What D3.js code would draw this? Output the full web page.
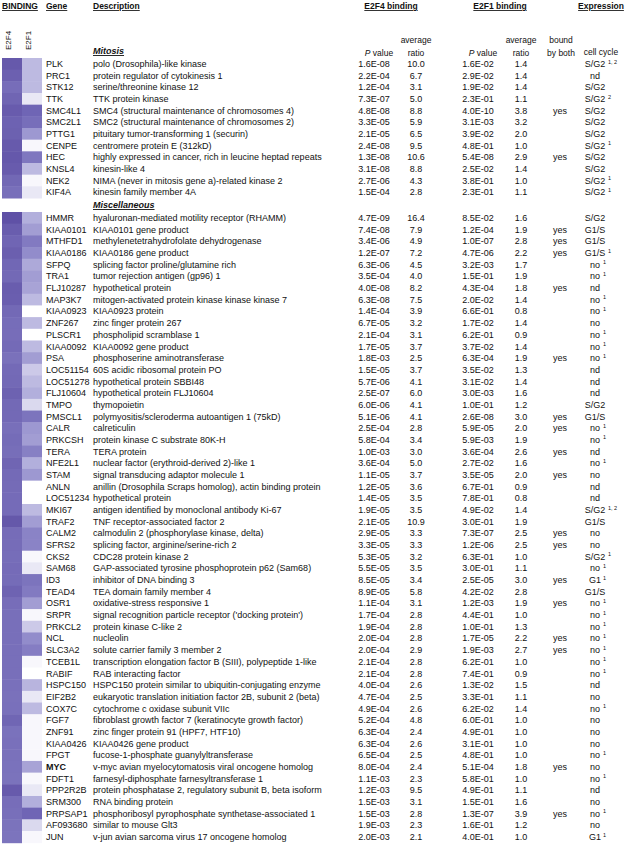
<!DOCTYPE html>
<html lang="en">
<head>
  <meta charset="UTF-8">
  <title>E2F4 / E2F1 binding</title>
  <style>
    body, html {
      margin: 0;
      padding: 0;
      background-color: #ffffff;
    }
    #svg text {
      font-family: Arial, 'Liberation Sans', Helvetica, sans-serif;
      fill: #111;
    }
  </style>
</head>
<body>
  <svg id="svg" width="627" height="854"></svg>
  <script src="https://d3js.org/d3.v7.min.js"></script>
  <script>
    const categories = ['Mitosis', 'Miscellaneous']
    const categoryCounts = [12, 54]

    const genes = ['PLK', 'PRC1', 'STK12', 'TTK', 'SMC4L1', 'SMC2L1', 'PTTG1', 'CENPE', 'HEC', 'KNSL4', 'NEK2', 'KIF4A',
      'HMMR', 'KIAA0101', 'MTHFD1', 'KIAA0186', 'SFPQ', 'TRA1', 'FLJ10287', 'MAP3K7', 'KIAA0923', 'ZNF267',
      'PLSCR1', 'KIAA0092', 'PSA', 'LOC51154', 'LOC51278', 'FLJ10604', 'TMPO', 'PMSCL1', 'CALR', 'PRKCSH',
      'TERA', 'NFE2L1', 'STAM', 'ANLN', 'LOC51234', 'MKI67', 'TRAF2', 'CALM2', 'SFRS2', 'CKS2', 'SAM68',
      'ID3', 'TEAD4', 'OSR1', 'SRPR', 'PRKCL2', 'NCL', 'SLC3A2', 'TCEB1L', 'RABIF', 'HSPC150', 'EIF2B2',
      'COX7C', 'FGF7', 'ZNF91', 'KIAA0426', 'FPGT', 'MYC', 'FDFT1', 'PPP2R2B', 'SRM300', 'PRPSAP1',
      'AF093680', 'JUN']

    const descriptions = [
      'polo (Drosophila)-like kinase',
      'protein regulator of cytokinesis 1',
      'serine/threonine kinase 12',
      'TTK protein kinase',
      'SMC4 (structural maintenance of chromosomes 4)',
      'SMC2 (structural maintenance of chromosomes 2)',
      'pituitary tumor-transforming 1 (securin)',
      'centromere protein E (312kD)',
      'highly expressed in cancer, rich in leucine heptad repeats',
      'kinesin-like 4',
      'NIMA (never in mitosis gene a)-related kinase 2',
      'kinesin family member 4A',
      'hyaluronan-mediated motility receptor (RHAMM)',
      'KIAA0101 gene product',
      'methylenetetrahydrofolate dehydrogenase',
      'KIAA0186 gene product',
      'splicing factor proline/glutamine rich',
      'tumor rejection antigen (gp96) 1',
      'hypothetical protein',
      'mitogen-activated protein kinase kinase kinase 7',
      'KIAA0923 protein',
      'zinc finger protein 267',
      'phospholipid scramblase 1',
      'KIAA0092 gene product',
      'phosphoserine aminotransferase',
      '60S acidic ribosomal protein PO',
      'hypothetical protein SBBI48',
      'hypothetical protein FLJ10604',
      'thymopoietin',
      'polymyositis/scleroderma autoantigen 1 (75kD)',
      'calreticulin',
      'protein kinase C substrate 80K-H',
      'TERA protein',
      'nuclear factor (erythroid-derived 2)-like 1',
      'signal transducing adaptor molecule 1',
      'anillin (Drosophila Scraps homolog), actin binding protein',
      'hypothetical protein',
      'antigen identified by monoclonal antibody Ki-67',
      'TNF receptor-associated factor 2',
      'calmodulin 2 (phosphorylase kinase, delta)',
      'splicing factor, arginine/serine-rich 2',
      'CDC28 protein kinase 2',
      'GAP-associated tyrosine phosphoprotein p62 (Sam68)',
      'inhibitor of DNA binding 3',
      'TEA domain family member 4',
      'oxidative-stress responsive 1',
      'signal recognition particle receptor (\'docking protein\')',
      'protein kinase C-like 2',
      'nucleolin',
      'solute carrier family 3 member 2',
      'transcription elongation factor B (SIII), polypeptide 1-like',
      'RAB interacting factor',
      'HSPC150 protein similar to ubiquitin-conjugating enzyme',
      'eukaryotic translation initiation factor 2B, subunit 2 (beta)',
      'cytochrome c oxidase subunit VIIc',
      'fibroblast growth factor 7 (keratinocyte growth factor)',
      'zinc finger protein 91 (HPF7, HTF10)',
      'KIAA0426 gene product',
      'fucose-1-phosphate guanylyltransferase',
      'v-myc avian myelocytomatosis viral oncogene homolog',
      'farnesyl-diphosphate farnesyltransferase 1',
      'protein phosphatase 2, regulatory subunit B, beta isoform',
      'RNA binding protein',
      'phosphoribosyl pyrophosphate synthetase-associated 1',
      'similar to mouse Glt3',
      'v-jun avian sarcoma virus 17 oncogene homolog'
    ]

    const e2f4P = ['1.6E-08', '2.2E-04', '1.2E-04', '7.3E-07', '4.8E-08', '3.3E-05', '2.1E-05', '2.4E-08', '1.3E-08', '3.1E-08', '2.7E-06', '1.5E-04',
      '4.7E-09', '7.4E-08', '3.4E-06', '1.2E-07', '6.3E-06', '3.5E-04', '4.0E-08', '6.3E-08', '1.4E-04', '6.7E-05',
      '2.1E-04', '1.7E-05', '1.8E-03', '1.5E-05', '5.7E-06', '2.5E-07', '6.0E-06', '5.1E-06', '2.5E-04', '5.8E-04',
      '1.0E-03', '3.6E-04', '1.1E-05', '1.2E-05', '1.4E-05', '1.9E-05', '2.1E-05', '2.9E-05', '3.3E-05', '5.3E-05', '5.5E-05',
      '8.5E-05', '8.9E-05', '1.1E-04', '1.7E-04', '1.9E-04', '2.0E-04', '2.0E-04', '2.1E-04', '2.1E-04', '4.0E-04', '4.7E-04',
      '4.9E-04', '5.2E-04', '6.3E-04', '6.3E-04', '6.5E-04', '8.0E-04', '1.1E-03', '1.2E-03', '1.5E-03', '1.5E-03',
      '1.9E-03', '2.0E-03']
    const e2f4Ratio = [10.0, 6.7, 3.1, 5.0, 8.8, 5.9, 6.5, 9.5, 10.6, 8.8, 4.3, 2.8,
      16.4, 7.9, 4.9, 7.2, 4.5, 4.0, 8.2, 7.5, 3.9, 3.2,
      3.1, 3.7, 2.5, 3.7, 4.1, 6.0, 4.1, 4.1, 2.8, 3.4,
      3.0, 5.0, 3.7, 3.6, 3.5, 3.5, 10.9, 3.3, 3.3, 3.2, 3.5,
      3.4, 5.8, 3.1, 2.8, 2.8, 2.8, 2.9, 2.8, 2.8, 2.6, 2.5,
      2.6, 4.8, 2.4, 2.6, 2.5, 2.4, 2.3, 9.5, 3.1, 2.8,
      2.3, 2.1]
    const e2f1P = ['1.6E-02', '2.9E-02', '1.9E-02', '2.3E-01', '4.0E-10', '3.1E-03', '3.9E-02', '4.8E-01', '5.4E-08', '2.5E-02', '3.8E-01', '2.3E-01',
      '8.5E-02', '1.2E-04', '1.0E-07', '4.7E-06', '3.2E-03', '1.5E-01', '4.3E-04', '2.0E-02', '6.6E-01', '1.7E-02',
      '6.2E-01', '3.7E-02', '6.3E-04', '3.5E-02', '3.1E-02', '3.0E-03', '1.0E-01', '2.6E-08', '5.9E-05', '5.9E-03',
      '3.6E-04', '2.7E-02', '3.5E-05', '6.7E-01', '7.8E-01', '4.9E-02', '3.0E-01', '7.3E-07', '1.2E-06', '6.3E-01', '3.0E-01',
      '2.5E-05', '4.2E-02', '1.2E-03', '4.4E-01', '1.0E-01', '1.7E-05', '1.9E-03', '6.2E-01', '7.4E-01', '1.3E-02', '3.3E-01',
      '6.2E-02', '6.0E-01', '4.9E-01', '3.1E-01', '4.8E-01', '5.1E-04', '5.8E-01', '4.9E-01', '1.5E-01', '1.3E-07',
      '1.6E-01', '4.0E-01']
    const e2f1Ratio = [1.4, 1.4, 1.4, 1.1, 3.8, 3.2, 2.0, 1.0, 2.9, 1.4, 1.0, 1.1,
      1.6, 1.9, 2.8, 2.2, 1.7, 1.9, 1.8, 1.4, 0.8, 1.4,
      0.9, 1.4, 1.9, 1.3, 1.4, 1.6, 1.2, 3.0, 2.0, 1.9,
      2.6, 1.6, 2.0, 0.9, 0.8, 1.4, 1.9, 2.5, 2.5, 1.0, 1.1,
      3.0, 2.8, 1.9, 1.0, 1.3, 2.2, 2.7, 1.0, 0.9, 1.5, 1.1,
      1.4, 1.0, 1.0, 1.0, 1.0, 1.8, 1.0, 1.1, 1.6, 3.9,
      1.2, 1.0]
    const boundByBoth = ['HEC', 'SMC4L1', 'KIAA0101', 'MTHFD1', 'KIAA0186', 'FLJ10287', 'PSA', 'PMSCL1', 'CALR',
      'TERA', 'STAM', 'CALM2', 'SFRS2', 'ID3', 'OSR1', 'NCL', 'SLC3A2', 'MYC', 'PRPSAP1']
    const cellCycle = ['S/G2', 'nd', 'S/G2', 'S/G2', 'S/G2', 'S/G2', 'S/G2', 'S/G2', 'S/G2', 'S/G2', 'S/G2', 'S/G2',
      'S/G2', 'G1/S', 'G1/S', 'G1/S', 'no', 'no', 'nd', 'no', 'no', 'no',
      'no', 'no', 'no', 'nd', 'nd', 'nd', 'S/G2', 'G1/S', 'no', 'no',
      'nd', 'no', 'no', 'nd', 'nd', 'S/G2', 'G1/S', 'no', 'no', 'S/G2', 'no',
      'G1', 'G1/S', 'no', 'no', 'no', 'no', 'no', 'no', 'no', 'nd', 'no',
      'no', 'no', 'no', 'no', 'no', 'no', 'no', 'nd', 'no', 'no',
      'no', 'G1']
    const cellCycleNotes = ['1, 2', '', '', '2', '', '', '', '1', '', '', '1', '1',
      '', '', '', '1', '1', '1', '', '1', '1', '',
      '1', '1', '1', '', '', '', '', '', '1', '1',
      '', '1', '', '', '', '1, 2', '', '', '', '1', '1',
      '1', '', '1', '1', '1', '1', '1', '1', '1', '', '',
      '1', '', '', '', '1', '', '1', '', '', '1',
      '', '1']
    const boldGenes = ['MYC']

    // rows
    let start = 0
    const groups = categories.map((c, gi) => {
      const idx = d3.range(start, start + categoryCounts[gi])
      start += categoryCounts[gi]
      return {
        name: c,
        rows: idx.map(i => ({
          gene: genes[i],
          desc: descriptions[i],
          p4: e2f4P[i], r4: e2f4Ratio[i],
          p1: e2f1P[i], r1: e2f1Ratio[i],
          both: boundByBoth.includes(genes[i]),
          cc: cellCycle[i], note: cellCycleNotes[i]
        }))
      }
    })

    const groupRanges = [[58, 198], [212, 842.7]]
    groups.forEach((g, gi) => {
      g.y = d3.scaleBand().domain(g.rows.map(d => d.gene)).range(groupRanges[gi])
    })

    const e2f4Color = d3.scaleLog()
      .domain([2, 16])
      .range(['#7d75be', '#5f51a6'])
      .clamp(true)
    const e2f1Color = d3.scaleLinear()
      .domain([0.95, 1.4, 2.2, 3.5])
      .range(['#ffffff', '#bdbae1', '#928ccb', '#6f65b5'])
      .clamp(true)

    const heatX = d3.scaleBand().domain(['E2F4', 'E2F1']).range([2, 42])

    const col = {
      gene: 46, desc: 93,
      p4: 374, r4: 416, p1: 478, r1: 521, both: 560, cc: 595
    }

    const svg = d3.select('#svg')
    const fs = 9

    // header row
    const headerItems = [
      { t: 'BINDING', x: 2, a: 'start' },
      { t: 'Gene', x: 46, a: 'start' },
      { t: 'Description', x: 93, a: 'start' },
      { t: 'E2F4 binding', x: 391, a: 'middle' },
      { t: 'E2F1 binding', x: 500, a: 'middle' },
      { t: 'Expression', x: 601, a: 'middle' }
    ]
    svg.selectAll('text.head')
      .data(headerItems)
      .enter()
      .append('text')
      .attr('class', 'head')
      .attr('x', d => d.x)
      .attr('y', 9)
      .attr('text-anchor', d => d.a)
      .style('font-size', '8.5px')
      .style('font-weight', 'bold')
      .style('text-decoration', 'underline')
      .text(d => d.t)

    // rotated heatmap labels
    svg.selectAll('text.hm')
      .data(heatX.domain())
      .enter()
      .append('text')
      .attr('class', 'hm')
      .attr('transform', d => `translate(${heatX(d) + 9},50) rotate(-90)`)
      .style('font-size', '8px')
      .text(d => d)

    // sub header
    const sub = [
      { lines: ['P value'], x: col.p4 + 5, p: true },
      { lines: ['average', 'ratio'], x: col.r4 },
      { lines: ['P value'], x: col.p1 + 5, p: true },
      { lines: ['average', 'ratio'], x: col.r1 },
      { lines: ['bound', 'by both'], x: col.both + 1 },
      { lines: ['cell cycle'], x: 601, dy: -1 }
    ]
    sub.forEach(s => {
      s.lines.forEach((l, li) => {
        const t = svg.append('text')
          .attr('x', s.x)
          .attr('y', 56 - (s.lines.length - 1 - li) * 13 + (s.dy || 0))
          .attr('text-anchor', 'middle')
          .style('font-size', '8.5px')
        if (s.p) {
          t.append('tspan').style('font-style', 'italic').text('P')
          t.append('tspan').text('  value')
        } else {
          t.text(l)
        }
      })
    })

    groups.forEach(g => {
      const y = g.y
      const top0 = y.range()[0]
      svg.append('text')
        .attr('x', col.desc)
        .attr('y', top0 - 4)
        .style('font-size', '9px')
        .style('font-weight', 'bold')
        .style('font-style', 'italic')
        .style('text-decoration', 'underline')
        .text(g.name)

      const rowG = svg.append('g')
        .selectAll('g')
        .data(g.rows)
        .enter()
        .append('g')
        .attr('transform', d => `translate(0,${y(d.gene)})`)

      rowG.append('rect')
        .attr('x', heatX('E2F4'))
        .attr('width', heatX.bandwidth())
        .attr('height', y.bandwidth() + 0.5)
        .attr('fill', d => e2f4Color(d.r4))
      rowG.append('rect')
        .attr('x', heatX('E2F1'))
        .attr('width', heatX.bandwidth())
        .attr('height', y.bandwidth() + 0.5)
        .attr('fill', d => e2f1Color(d.r1))

      const by = y.bandwidth() / 2 + 3.2
      const cell = (x, anchor, f) => rowG.append('text')
        .attr('x', x)
        .attr('y', by)
        .attr('text-anchor', anchor)
        .style('font-size', fs + 'px')
        .text(f)

      cell(col.gene, 'start', d => d.gene)
        .style('font-weight', d => boldGenes.includes(d.gene) ? 'bold' : 'normal')
      cell(col.desc, 'start', d => d.desc)
      cell(col.p4, 'middle', d => d.p4)
      cell(col.r4, 'middle', d => d.r4.toFixed(1))
      cell(col.p1, 'middle', d => d.p1)
      cell(col.r1, 'middle', d => d.r1.toFixed(1))
      cell(col.both, 'middle', d => d.both ? 'yes' : '')
      cell(col.cc, 'middle', d => d.cc)
      rowG.filter(d => d.note)
        .append('text')
        .attr('x', d => col.cc + (d.cc.length > 2 ? 13 : 8))
        .attr('y', by - 3.5)
        .style('font-size', '5.5px')
        .text(d => d.note)
    })
  </script>
</body>
</html>
